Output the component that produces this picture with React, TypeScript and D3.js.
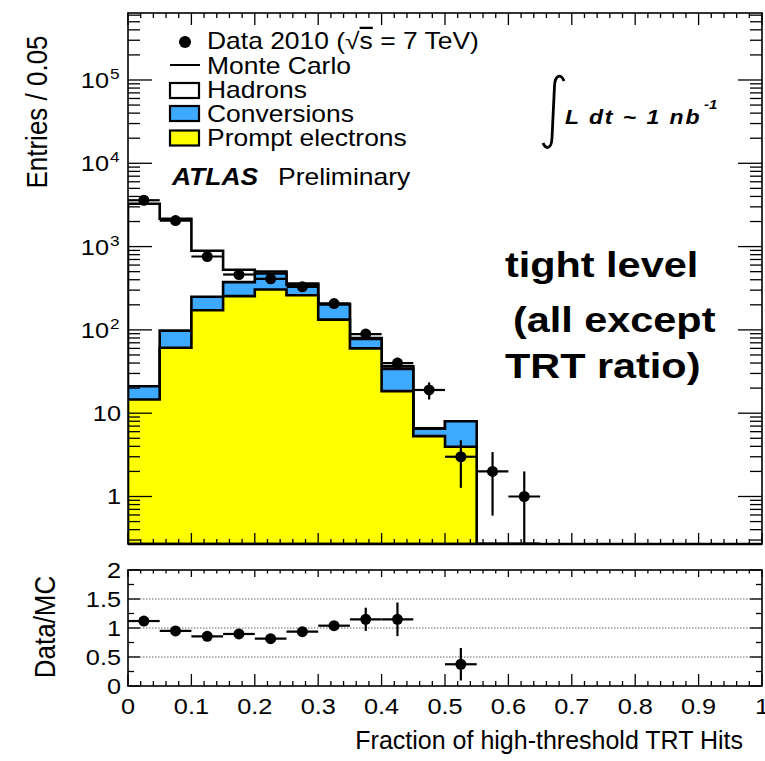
import React from "react";
import * as d3 from "d3";

// Histogram binning (lower edges) of the high-threshold hit fraction
const binLow = [0, 0.05, 0.1, 0.15, 0.2, 0.25, 0.3, 0.35, 0.4, 0.45, 0.5, 0.55, 0.6];
const binWidth = 0.05;

// Data 2010
const dataCounts = [3600, 2050, 760, 462, 410, 329, 207, 89, 40, 19, 3, 2, 1];
const dataErrors = [60, 45, 27.6, 21.5, 20.2, 18.1, 14.4, 9.4, 6.3, 4.4, 1.73, 1.41, 1.0];

// Monte Carlo components (stacked: prompt electrons, conversions, hadrons)
const promptElectrons = [14.6, 61, 172, 254, 305, 261, 133, 60, 18.4, 5.3, 3.95, 0, 0];
const conversions = [6.5, 37, 78, 120, 170, 87, 69, 18, 15.6, 1.2, 4.05, 0, 0];
const hadrons = [3249, 2062, 640, 154, 28, 12, 3, 2, 2.5, 0.1, 0, 0, 0];

// Data / MC ratio
const ratioValues: (number | null)[] = [1.12, 0.95, 0.857, 0.897, 0.816, 0.936, 1.04, 1.15, 1.15, null, 0.375, null, null];
const ratioErrors = [0.02, 0.02, 0.03, 0.03, 0.03, 0.04, 0.08, 0.2, 0.29, 0, 0.28, 0, 0];

// Axis ticks
const xTickValues = [0, 0.1, 0.2, 0.3, 0.4, 0.5, 0.6, 0.7, 0.8, 0.9, 1];
const xTickLabels = ["0", "0.1", "0.2", "0.3", "0.4", "0.5", "0.6", "0.7", "0.8", "0.9", "1"];
const yDecades = [1, 10, 100, 1000, 10000, 100000];
const yDecadeExponents = [0, 1, 2, 3, 4, 5];
const ratioTickValues = [0, 0.5, 1, 1.5, 2];
const ratioTickLabels = ["0", "0.5", "1", "1.5", "2"];
const ratioGridValues = [0.5, 1, 1.5];

const FONT = "'Liberation Sans', Arial, Helvetica, sans-serif";
const SX = 1.15;

// Frame geometry
const L = 128;
const R = 762;
const MT = 13;
const MB = 544;
const RT = 570;
const RB = 686;

const x = d3.scaleLinear().domain([0, 1]).range([L, R]);
const yMain = d3.scaleLog().domain([0.269, 6.37e5]).range([MB, MT]);
const yRatio = d3.scaleLinear().domain([0, 2]).range([RB, RT]);
const yPos = (v: number) => (v <= 0.269 ? MB : yMain(v));

const stackYellow = promptElectrons;
const stackBlue = promptElectrons.map((p, i) => p + conversions[i]);
const stackTotal = stackBlue.map((b, i) => b + hadrons[i]);

function stepPath(tops: number[]) {
  const pts: [number, number][] = binLow.map((lo, i) => [lo, tops[i]]);
  pts.push([binLow[binLow.length - 1] + binWidth, tops[tops.length - 1]]);
  const area = d3
    .area<[number, number]>()
    .x((d) => x(d[0]))
    .y0(MB)
    .y1((d) => yPos(d[1]))
    .curve(d3.curveStepAfter);
  return area(pts) || "";
}

type TxtProps = {
  x: number;
  y: number;
  size: number;
  anchor?: "start" | "middle" | "end";
  sx?: number;
  weight?: string;
  italic?: boolean;
  rotate?: number;
  length?: number;
  children: React.ReactNode;
};

function Txt({ x: tx, y: ty, size, anchor = "start", sx = SX, weight = "normal", italic = false, rotate, length, children }: TxtProps) {
  const tr = rotate
    ? `translate(${tx},${ty}) rotate(${rotate}) scale(1,${sx})`
    : `translate(${tx},${ty}) scale(${sx},1)`;
  return (
    <g transform={tr}>
      <text
        x={0}
        y={0}
        fontFamily={FONT}
        fontSize={size}
        fontWeight={weight}
        fontStyle={italic ? "italic" : "normal"}
        textAnchor={anchor}
        fill="#000"
        {...(length ? { textLength: length, lengthAdjust: "spacing" } : {})}
      >
        {children}
      </text>
    </g>
  );
}

function xTicks(top: number, bottom: number, majTop: number, minTop: number, majBot: number, minBot: number) {
  const lines: React.ReactNode[] = [];
  const minors = d3.range(0, 51).map((k) => k * 0.02);
  minors.forEach((v, k) => {
    const major = k % 5 === 0;
    const px = x(v);
    const lt = major ? majTop : minTop;
    const lb = major ? majBot : minBot;
    lines.push(<line key={`b${k}`} x1={px} x2={px} y1={bottom} y2={bottom - lb} />);
    lines.push(<line key={`t${k}`} x1={px} x2={px} y1={top} y2={top + lt} />);
  });
  return lines;
}

function logYTicks() {
  const lines: React.ReactNode[] = [];
  const [lo, hi] = yMain.domain();
  for (let e = -1; e <= 5; e++) {
    for (let m = 1; m <= 9; m++) {
      const v = m * Math.pow(10, e);
      if (v < lo || v > hi) continue;
      const py = yMain(v);
      const len = m === 1 ? 24 : 12;
      lines.push(<line key={`l${e}${m}`} x1={L} x2={L + len} y1={py} y2={py} />);
      lines.push(<line key={`r${e}${m}`} x1={R} x2={R - len} y1={py} y2={py} />);
    }
  }
  return lines;
}

function ratioYTicks() {
  const lines: React.ReactNode[] = [];
  d3.range(0, 9).forEach((k) => {
    const v = k * 0.25;
    const py = yRatio(v);
    const len = k % 2 === 0 ? 12 : 6;
    lines.push(<line key={`rl${k}`} x1={L} x2={L + len} y1={py} y2={py} />);
    lines.push(<line key={`rr${k}`} x1={R} x2={R - len} y1={py} y2={py} />);
  });
  return lines;
}

export default function App() {
  const centers = binLow.map((lo) => lo + binWidth / 2);
  return (
    <svg
      width={765}
      height={761}
      viewBox="0 0 765 761"
      style={{ position: "absolute", left: 0, top: 0, background: "#fff" }}
    >
      <rect x={0} y={0} width={765} height={761} fill="#fff" />
      <defs>
        <clipPath id="mainClip">
          <rect x={L} y={MT} width={R - L} height={MB - MT} />
        </clipPath>
      </defs>

      {/* stacked MC histograms */}
      <g clipPath="url(#mainClip)" stroke="#000" strokeWidth={2.6} strokeLinejoin="miter">
        <path d={stepPath(stackTotal)} fill="#ffffff" />
        <path d={stepPath(stackBlue)} fill="#3da9ff" />
        <path d={stepPath(stackYellow)} fill="#ffff00" />
      </g>

      {/* main frame and ticks */}
      <g stroke="#000" strokeWidth={1.3}>
        {xTicks(MT, MB, 12, 5, 11, 5)}
        {logYTicks()}
      </g>
      <rect x={L} y={MT} width={R - L} height={MB - MT} fill="none" stroke="#000" strokeWidth={1.6} />
      <line x1={L} x2={R} y1={MB} y2={MB} stroke="#000" strokeWidth={2.6} />

      {/* data points */}
      <g stroke="#000" strokeWidth={2.2} clipPath="url(#mainClip)">
        {dataCounts.map((n, i) => {
          const cx = x(centers[i]);
          const cy = yMain(n);
          const lo = n - dataErrors[i];
          return (
            <g key={`d${i}`}>
              <line x1={x(binLow[i])} x2={x(binLow[i] + binWidth)} y1={cy} y2={cy} />
              <line x1={cx} x2={cx} y1={yMain(n + dataErrors[i])} y2={yPos(lo)} />
              <circle cx={cx} cy={cy} r={5.5} fill="#000" stroke="none" />
            </g>
          );
        })}
      </g>

      {/* main y labels */}
      {yDecades.map((v, i) => {
        const py = yMain(v) + 8;
        const ex = yDecadeExponents[i];
        return (
          <Txt key={`yl${i}`} x={ex >= 2 ? 109 : 121} y={py} size={22} anchor="end">
            {ex === 0 ? "1" : "10"}
          </Txt>
        );
      })}
      {yDecades.map((v, i) => {
        const ex = yDecadeExponents[i];
        if (ex < 2) return null;
        return (
          <Txt key={`ye${i}`} x={110} y={yMain(v) - 1} size={15}>
            {String(ex)}
          </Txt>
        );
      })}

      <Txt x={47} y={112} size={26} anchor="middle" rotate={-90}>
        Entries / 0.05
      </Txt>

      {/* legend */}
      <circle cx={185} cy={42} r={6} fill="#000" />
      <line x1={170} x2={200} y1={65} y2={65} stroke="#000" strokeWidth={2} />
      <rect x={170} y={83} width={29} height={15} fill="#fff" stroke="#000" strokeWidth={2.2} />
      <rect x={170} y={106} width={29} height={15} fill="#3da9ff" stroke="#000" strokeWidth={2.2} />
      <rect x={170} y={130.5} width={29} height={15} fill="#ffff00" stroke="#000" strokeWidth={2.2} />
      <Txt x={207} y={49} size={23}>
        Data 2010 (√<tspan style={{ textDecoration: "overline" }}>s</tspan> = 7 TeV)
      </Txt>
      <Txt x={207} y={74} size={23}>Monte Carlo</Txt>
      <Txt x={207} y={98} size={23}>Hadrons</Txt>
      <Txt x={207} y={122} size={23}>Conversions</Txt>
      <Txt x={207} y={146} size={23}>Prompt electrons</Txt>

      <Txt x={172} y={185} size={23} weight="bold" italic>ATLAS</Txt>
      <Txt x={278} y={185} size={23}>Preliminary</Txt>

      {/* luminosity */}
      <path
        d="M 564 81 C 561 73, 555 75, 554.5 86 L 552 138 C 551.5 149, 546 150, 543 143"
        fill="none"
        stroke="#000"
        strokeWidth={2.8}
      />
      <Txt x={565} y={124} size={20} weight="bold" italic length={117}>
        L dt ~ 1 nb
      </Txt>
      <Txt x={704} y={109} size={13} weight="bold" italic>-1</Txt>

      {/* selection note */}
      <Txt x={505} y={277} size={36} weight="bold">tight level</Txt>
      <Txt x={513} y={332} size={36} weight="bold">(all except</Txt>
      <Txt x={505} y={378} size={36} weight="bold">TRT ratio)</Txt>

      {/* ratio panel */}
      <g stroke="#999" strokeWidth={1.4} strokeDasharray="1.5 1.5">
        {ratioGridValues.map((v) => (
          <line key={`g${v}`} x1={L} x2={R} y1={yRatio(v)} y2={yRatio(v)} />
        ))}
      </g>
      <g stroke="#000" strokeWidth={1.3}>
        {xTicks(RT, RB, 7, 3.5, 12, 5)}
        {ratioYTicks()}
      </g>
      <rect x={L} y={RT} width={R - L} height={RB - RT} fill="none" stroke="#000" strokeWidth={1.6} />

      <g stroke="#000" strokeWidth={2.2}>
        {ratioValues.map((r, i) => {
          if (r === null) return null;
          const cx = x(centers[i]);
          const cy = yRatio(r);
          return (
            <g key={`r${i}`}>
              <line x1={x(binLow[i])} x2={x(binLow[i] + binWidth)} y1={cy} y2={cy} />
              {ratioErrors[i] > 0 && (
                <line x1={cx} x2={cx} y1={yRatio(r + ratioErrors[i])} y2={yRatio(r - ratioErrors[i])} />
              )}
              <circle cx={cx} cy={cy} r={5.5} fill="#000" stroke="none" />
            </g>
          );
        })}
      </g>

      {ratioTickValues.map((v, i) => (
        <Txt key={`rt${i}`} x={121} y={yRatio(v) + 8} size={22} anchor="end">
          {ratioTickLabels[i]}
        </Txt>
      ))}
      {xTickValues.map((v, i) => (
        <Txt key={`xt${i}`} x={x(v)} y={714} size={22} anchor="middle">
          {xTickLabels[i]}
        </Txt>
      ))}

      <Txt x={55} y={627} size={26} anchor="middle" rotate={-90}>
        Data/MC
      </Txt>
      <Txt x={743} y={749} size={25} anchor="end" sx={1.0}>
        Fraction of high-threshold TRT Hits
      </Txt>
    </svg>
  );
}
